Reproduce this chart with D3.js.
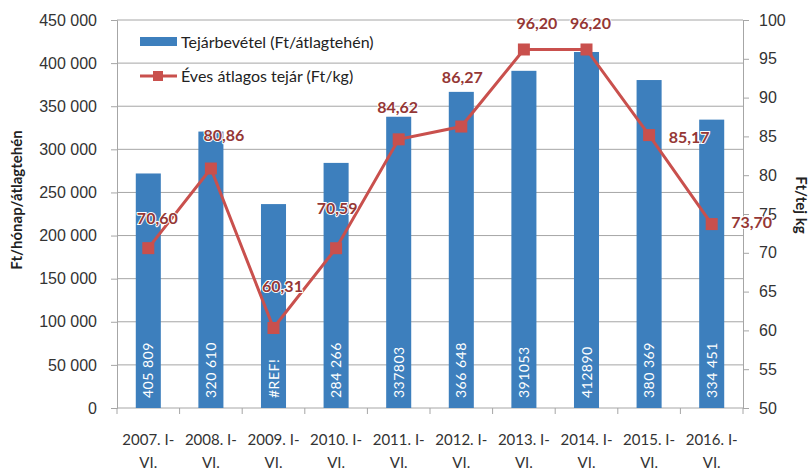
<!DOCTYPE html>
<html>
<head>
<meta charset="utf-8">
<script src="https://cdn.jsdelivr.net/npm/d3@7"></script>
<style>
  body { margin: 0; background: #fff; }
  svg { font-family: Lato, "Open Sans", sans-serif; }
</style>
</head>
<body>
<script>
const years = ["2007.", "2008.", "2009.", "2010.", "2011.", "2012.", "2013.", "2014.", "2015.", "2016."];
const revenue = [272000, 320610, 236500, 284266, 337803, 366648, 391053, 412890, 380369, 334451];
const barLabels = ["405 809", "320 610", "#REF!", "284 266", "337803", "366 648", "391053", "412890", "380 369", "334 451"];
const milkPrice = [70.60, 80.86, 60.31, 70.59, 84.62, 86.27, 96.20, 96.20, 85.17, 73.70];
const leftTicks = [0, 50000, 100000, 150000, 200000, 250000, 300000, 350000, 400000, 450000];
const rightTicks = [50, 55, 60, 65, 70, 75, 80, 85, 90, 95, 100];

const width = 812;
const height = 470;
const plotL = 117, plotR = 743, plotT = 20, plotB = 408;

const svg = d3.select("body").append("svg")
  .attr("width", width)
  .attr("height", height);

const x = d3.scaleBand().domain(years).range([plotL, plotR]).paddingInner(0.6).paddingOuter(0.3);
const yL = d3.scaleLinear().domain([0, 450000]).range([plotB, plotT]);
const yR = d3.scaleLinear().domain([50, 100]).range([plotB, plotT]);

const fmt = d3.formatLocale({ decimal: ",", thousands: " ", grouping: [3], currency: ["", ""] });
const num = fmt.format(",");
const dec = fmt.format(",.2f");

// gridlines
svg.append("g")
  .selectAll("line")
  .data(leftTicks.slice(1))
  .enter().append("line")
  .attr("x1", plotL).attr("x2", plotR)
  .attr("y1", (d) => yL(d)).attr("y2", (d) => yL(d))
  .attr("stroke", "#a6a6a6").attr("stroke-width", 1);

// left axis
const axL = svg.append("g")
  .attr("transform", `translate(${plotL},0)`)
  .call(d3.axisLeft(yL).tickValues(leftTicks).tickFormat(num).tickSizeOuter(0).tickSize(6).tickPadding(14));
axL.select(".domain").attr("stroke", "#a6a6a6");
axL.selectAll(".tick line").attr("stroke", "#a6a6a6");
axL.selectAll("text").attr("font-size", "16px").attr("fill", "#333");

// right axis
const axR = svg.append("g")
  .attr("transform", `translate(${plotR},0)`)
  .call(d3.axisRight(yR).tickValues(rightTicks).tickSizeOuter(0).tickSize(6).tickPadding(10));
axR.select(".domain").attr("stroke", "#a6a6a6");
axR.selectAll(".tick line").attr("stroke", "#a6a6a6");
axR.selectAll("text").attr("font-size", "16px").attr("fill", "#333");

// x axis
svg.append("line")
  .attr("x1", plotL).attr("x2", plotR)
  .attr("y1", plotB).attr("y2", plotB)
  .attr("stroke", "#a6a6a6");
const step = x.step();
svg.append("g")
  .selectAll("line")
  .data(d3.range(years.length + 1))
  .enter().append("line")
  .attr("x1", (i) => plotL + i * step).attr("x2", (i) => plotL + i * step)
  .attr("y1", plotB).attr("y2", plotB + 6)
  .attr("stroke", "#a6a6a6");

const xl = svg.append("g").selectAll("text")
  .data(years)
  .enter().append("text")
  .attr("text-anchor", "middle")
  .attr("font-size", "15px")
  .attr("fill", "#333");
xl.append("tspan").attr("x", (d) => x(d) + x.bandwidth() / 2).attr("y", 445).text((d) => d + " I-");
xl.append("tspan").attr("x", (d) => x(d) + x.bandwidth() / 2).attr("y", 468).text("VI.");

// bars
svg.append("g")
  .selectAll("rect")
  .data(revenue)
  .enter().append("rect")
  .attr("x", (d, i) => x(years[i]))
  .attr("y", (d) => yL(d))
  .attr("width", x.bandwidth())
  .attr("height", (d) => yL(0) - yL(d))
  .attr("fill", "#3d7fbd");

svg.append("g")
  .selectAll("text")
  .data(barLabels)
  .enter().append("text")
  .attr("transform", (d, i) => `translate(${x(years[i]) + x.bandwidth() / 2 + 5},${plotB - 10}) rotate(-90)`)
  .attr("font-size", "14px")
  .attr("letter-spacing", "0.5px")
  .attr("fill", "#fff")
  .text((d) => d);

// line
const cx = (i) => x(years[i]) + x.bandwidth() / 2;
svg.append("path")
  .datum(milkPrice)
  .attr("d", d3.line().x((d, i) => cx(i)).y((d) => yR(d)))
  .attr("fill", "none")
  .attr("stroke", "#c9504d")
  .attr("stroke-width", 3);

svg.append("g")
  .selectAll("rect")
  .data(milkPrice)
  .enter().append("rect")
  .attr("x", (d, i) => cx(i) - 6)
  .attr("y", (d) => yR(d) - 6)
  .attr("width", 12).attr("height", 12)
  .attr("fill", "#c9504d");

const labelOffsets = [[9, -30], [13, -33], [9, -42], [1, -40], [-1, -32], [1, -49], [13, -26], [4, -26], [40, 2], [40, -2]];
svg.append("g")
  .selectAll("text")
  .data(milkPrice)
  .enter().append("text")
  .attr("x", (d, i) => cx(i) + labelOffsets[i][0])
  .attr("y", (d, i) => yR(d) + labelOffsets[i][1])
  .attr("dy", "0.35em")
  .attr("text-anchor", "middle")
  .attr("font-size", "16px")
  .attr("font-weight", "bold")
  .attr("fill", "#953735")
  .attr("stroke", "#fff")
  .attr("stroke-width", 2)
  .attr("paint-order", "stroke")
  .text((d) => dec(d));

// axis titles
svg.append("text")
  .attr("transform", "translate(22,200) rotate(-90)")
  .attr("text-anchor", "middle")
  .attr("font-size", "15px")
  .attr("font-weight", "bold")
  .attr("fill", "#222")
  .text("Ft/hónap/átlagtehén");

svg.append("text")
  .attr("transform", "translate(796,205) rotate(90)")
  .attr("text-anchor", "middle")
  .attr("font-size", "15px")
  .attr("font-weight", "bold")
  .attr("fill", "#222")
  .text("Ft/tej kg");

// legend
const lg = svg.append("g");
lg.append("rect").attr("x", 140).attr("y", 37).attr("width", 37).attr("height", 9).attr("fill", "#3d7fbd");
lg.append("text").attr("x", 181).attr("y", 42).attr("dy", "0.35em").attr("font-size", "16px").attr("fill", "#222")
  .text("Tejárbevétel (Ft/átlagtehén)");
lg.append("line").attr("x1", 140).attr("x2", 177).attr("y1", 76).attr("y2", 76).attr("stroke", "#c9504d").attr("stroke-width", 3);
lg.append("rect").attr("x", 153).attr("y", 71).attr("width", 10).attr("height", 10).attr("fill", "#c9504d");
lg.append("text").attr("x", 181).attr("y", 76).attr("dy", "0.35em").attr("font-size", "16px").attr("fill", "#222")
  .text("Éves átlagos tejár (Ft/kg)");
</script>
</body>
</html>
